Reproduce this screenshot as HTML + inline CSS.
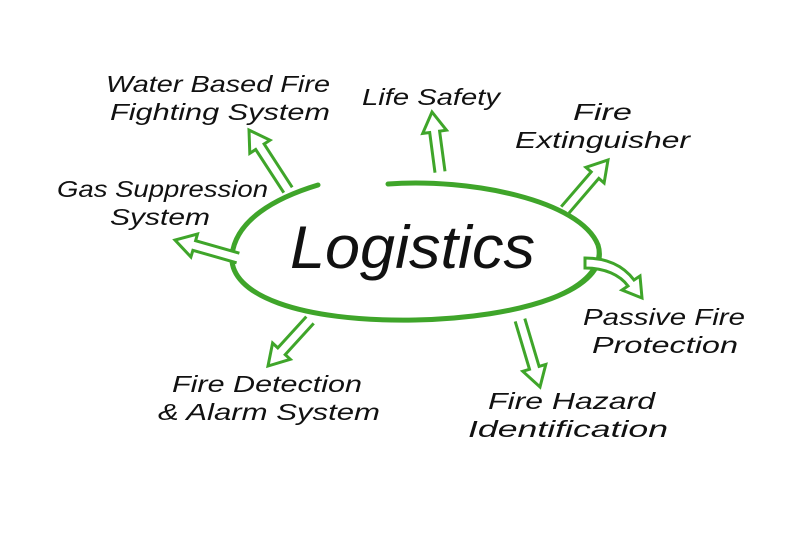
<!DOCTYPE html>
<html><head><meta charset="utf-8"><style>
html,body{margin:0;padding:0;background:#fff;}
svg{display:block}
text{font-family:"Liberation Sans","DejaVu Sans",sans-serif;font-style:italic;fill:#111;}
</style></head><body>
<svg id="s" width="800" height="535" viewBox="0 0 800 535">
<path d="M388,184 C470,178 580,200 598,245 C612,290 520,318 415,320 C300,322 228,295 232,255 C236,220 275,198 318,185" fill="none" stroke="#3fa52a" stroke-width="5" stroke-linecap="round"/>
<path d="M598,250 C600,290 520,318 415,320 C330,321 270,305 245,285" fill="none" stroke="#3fa52a" stroke-width="2.5"/>
<text x="290" y="268" font-size="60" textLength="245" lengthAdjust="spacingAndGlyphs">Logistics</text>
<g font-size="23">
<text x="106" y="92" textLength="224" lengthAdjust="spacingAndGlyphs">Water Based Fire</text>
<text x="110" y="120" textLength="220" lengthAdjust="spacingAndGlyphs">Fighting System</text>
<text x="362" y="105" textLength="138" lengthAdjust="spacingAndGlyphs">Life Safety</text>
<text x="573" y="120" textLength="59" lengthAdjust="spacingAndGlyphs">Fire</text>
<text x="515" y="148" textLength="175" lengthAdjust="spacingAndGlyphs">Extinguisher</text>
<text x="57" y="197" textLength="211" lengthAdjust="spacingAndGlyphs">Gas Suppression</text>
<text x="110" y="225" textLength="100" lengthAdjust="spacingAndGlyphs">System</text>
<text x="583" y="325" textLength="162" lengthAdjust="spacingAndGlyphs">Passive Fire</text>
<text x="592" y="353" textLength="146" lengthAdjust="spacingAndGlyphs">Protection</text>
<text x="172" y="392" textLength="190" lengthAdjust="spacingAndGlyphs">Fire Detection</text>
<text x="158" y="420" textLength="222" lengthAdjust="spacingAndGlyphs">&amp;  Alarm System</text>
<text x="488" y="409" textLength="167" lengthAdjust="spacingAndGlyphs">Fire Hazard</text>
<text x="468" y="437" textLength="200" lengthAdjust="spacingAndGlyphs">Identification</text>
</g>
<g id="arrows" fill="#fff" stroke="#3fa52a" stroke-width="3" stroke-linejoin="miter"></g>
<path d="M585,258 C610,258 625,268 634,280 L640,276 L642,298 L622,290 L628,286 C620,275 605,268 585,268 Z" fill="#fff" stroke="#3fa52a" stroke-width="3"/>
</svg>
<script>
var A=[[288,190,249,130],[440,172,432,112],[565,210,608,160],[520,320,540,387],[310,320,268,366],[238,258,175,240]];
var g=document.getElementById('arrows');
A.forEach(function(a){
var dx=a[2]-a[0],dy=a[3]-a[1],L=Math.hypot(dx,dy),ux=dx/L,uy=dy/L,nx=-uy,ny=ux;
var sw=5,hw=12,hl=20;
function p(t,o){return (a[0]+ux*t+nx*o).toFixed(1)+','+(a[1]+uy*t+ny*o).toFixed(1);}
var pts=[p(0,sw),p(L-hl,sw),p(L-hl,hw),p(L,0),p(L-hl,-hw),p(L-hl,-sw),p(0,-sw)];
var e=document.createElementNS('http://www.w3.org/2000/svg','polyline');
e.setAttribute('points',pts.join(' '));g.appendChild(e);
});
</script>
</body></html>
